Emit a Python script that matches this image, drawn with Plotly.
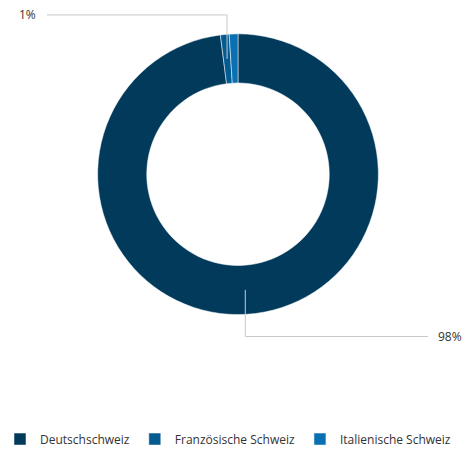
import math
import plotly.graph_objects as go

# Regions and their shares (percent)
regions = ["Deutschschweiz", "Französische Schweiz", "Italienische Schweiz"]
shares = [98, 1, 1]
colors = ["#023a5c", "#045b91", "#0a70b4"]
# Which slices get an outside label
labelled = [True, True, False]

W, H = 464, 454
cx, cy, R = 238, 175, 141  # pie centre and radius in pixels
hole = 0.65

fig = go.Figure(
    go.Pie(
        labels=regions,
        values=shares,
        hole=hole,
        sort=False,
        direction="clockwise",
        rotation=0,
        marker=dict(colors=colors, line=dict(color="white", width=0.5)),
        textinfo="none",
        hoverinfo="label+percent",
        domain=dict(
            x=[(cx - R) / W, (cx + R) / W],
            y=[(H - cy - R) / H, (H - cy + R) / H],
        ),
    )
)

# Leader lines and labels derived from slice angles
total = sum(shares)
r_mid = R * (1 + hole) / 2
cum = 0.0
shapes, annotations = [], []
for name, v, show in zip(regions, shares, labelled):
    mid = (cum + v / 2) / total * 2 * math.pi
    cum += v
    if not show:
        continue
    px = cx + r_mid * math.sin(mid)
    py = cy - r_mid * math.cos(mid)
    upper = math.cos(mid) > 0
    ey = cy - R - 19 if upper else cy + R + 22
    left = math.sin(mid) < 0
    ex = 47 if left else 428
    pct = round(v / total * 100)
    to_paper = lambda x, y: (x / W, 1 - y / H)
    pts = [to_paper(px, py), to_paper(px, ey), to_paper(ex, ey)]
    path = "M {} {} L {} {} L {} {}".format(*[c for p in pts for c in p])
    shapes.append(dict(type="path", path=path, xref="paper", yref="paper",
                       line=dict(color="#c8c8c8", width=1)))
    annotations.append(dict(
        x=(ex - 9) / W if left else (ex + 8) / W,
        y=1 - ey / H, xref="paper", yref="paper",
        text=f"{pct}%", showarrow=False,
        xanchor="right" if left else "left", yanchor="middle",
        font=dict(size=12, color="#333333"),
    ))

fig.update_layout(
    width=W, height=H,
    margin=dict(l=0, r=0, t=0, b=0),
    paper_bgcolor="white",
    plot_bgcolor="white",
    font=dict(family="Open Sans, sans-serif", size=12, color="#333333"),
    shapes=shapes,
    annotations=annotations,
    legend=dict(
        orientation="h",
        x=0.0, xanchor="left",
        y=1 - 441 / H, yanchor="middle",
        font=dict(size=12, color="#333333"),
        itemclick=False,
    ),
)

fig.write_html("out.html")
